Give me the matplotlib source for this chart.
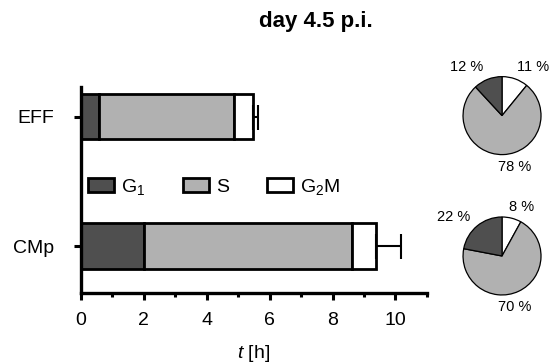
import numpy as np
import matplotlib
matplotlib.use("Agg")
import matplotlib.pyplot as plt

plt.rcParams['font.family'] = ['Liberation Sans', 'DejaVu Sans']
plt.rcParams['mathtext.fontset'] = 'custom'
plt.rcParams['mathtext.rm'] = 'Liberation Sans'
plt.rcParams['mathtext.it'] = 'Liberation Sans:italic'

# phase durations in hours (mean), error of total cycle
zelltypen = ["CMp", "EFF"]
g1 = [2.0, 0.58]
s = [6.63, 4.29]
g2m = [0.76, 0.6]
fehler = [0.8, 0.15]

phasen = ["G$_1$", "S", "G$_2$M"]
farben = ["#4f4f4f", "#b1b1b1", "#ffffff"]

# percentages for pies (order: G1, S, G2M)
prozent_eff = [12, 78, 11]
prozent_cmp = [22, 70, 8]

fig = plt.figure(figsize=(5.57, 3.63), dpi=100)
ax = fig.add_axes([0.1454, 0.1928, 0.621, 0.5675])

y = np.arange(len(zelltypen))
links = np.zeros(len(zelltypen))
balken = []
for werte, farbe, name in zip([g1, s, g2m], farben, phasen):
    b = ax.barh(y, werte, left=links, height=0.35, color=farbe,
                edgecolor="black", linewidth=2, label=name)
    balken.append(b)
    links = links + np.array(werte)

# one-sided error bars at the end of the cycle
ax.errorbar(links, y, xerr=[np.zeros(len(fehler)), fehler], fmt="none",
            ecolor="black", elinewidth=1.5, capsize=9, capthick=1.5)

ax.set_xlim(0, 11)
ax.set_ylim(-0.363, 1.23)
ax.set_yticks(y)
ax.set_yticklabels(zelltypen)
ax.set_xticks([0, 2, 4, 6, 8, 10])
ax.set_xticks([1, 3, 5, 7, 9, 11], minor=True)
ax.tick_params(axis="both", which="major", labelsize=14, width=2.2, length=5)
ax.tick_params(axis="x", which="minor", width=2.2, length=3)
ax.tick_params(axis="x", which="major", pad=9)
ax.tick_params(axis="y", pad=14)
for sp in ["top", "right"]:
    ax.spines[sp].set_visible(False)
for sp in ["left", "bottom"]:
    ax.spines[sp].set_linewidth(2.4)
ax.set_xlabel("$t$ [h]", fontsize=14, labelpad=10)

ax.legend(handles=balken, loc="center left", ncol=3, frameon=False,
          bbox_to_anchor=(88 / 557, 1 - 186.7 / 363),
          bbox_transform=fig.transFigure, fontsize=14, borderpad=0,
          borderaxespad=0, handlelength=1.35, handleheight=0.68,
          handletextpad=0.35, columnspacing=1.95)

fig.text(316 / 557, 1 - 21.7 / 363, "day 4.5 p.i.", fontsize=16,
         fontweight="bold", ha="center", va="center")


def torte(pos, prozent, beschriftung):
    pax = fig.add_axes(pos)
    # white G2M first, clockwise from the top
    werte = [prozent[2], prozent[1], prozent[0]]
    cols = [farben[2], farben[1], farben[0]]
    pax.pie(werte, colors=cols, startangle=90, counterclock=False,
            wedgeprops=dict(edgecolor="black", linewidth=0.9))
    pax.set_xlim(-1, 1)
    pax.set_ylim(-1, 1)
    pax.set_aspect("equal")
    for (tx, ty), p in zip(beschriftung, prozent):
        pax.text(tx, ty, "%d %%" % p, fontsize=10.5, ha="center",
                 va="center", clip_on=False)


torte([0.9013 - 0.070, 0.6815 - 0.10745, 0.140, 0.2149], prozent_eff,
      [(-0.90, 1.25), (0.33, -1.32), (0.79, 1.25)])
torte([0.9013 - 0.070, 0.2948 - 0.10745, 0.140, 0.2149], prozent_cmp,
      [(-1.23, 1.0), (0.33, -1.31), (0.51, 1.26)])

fig.savefig("out.png", dpi=100)
